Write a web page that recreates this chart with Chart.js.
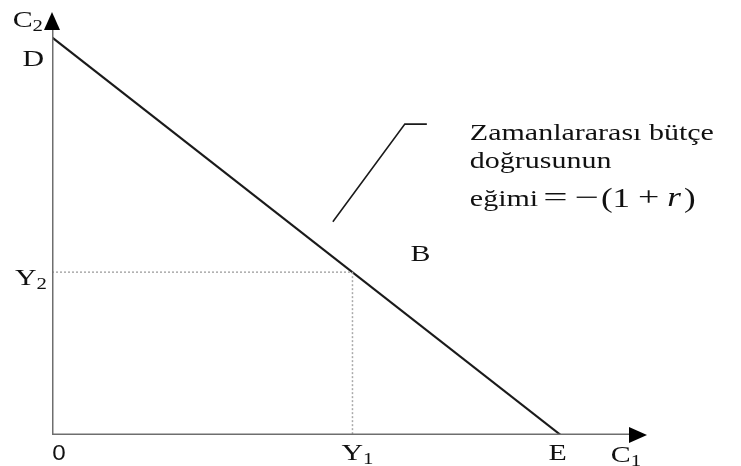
<!DOCTYPE html>
<html>
<head>
<meta charset="utf-8">
<script src="https://cdn.jsdelivr.net/npm/chart.js@4"></script>
<style>
  html, body { margin: 0; padding: 0; background: #fff; }
  canvas { display: block; }
</style>
</head>
<body>
<canvas id="butce" width="741" height="466"></canvas>
<script>
// budget line ends (C2 intercept D, C1 intercept E) and endowment point B
const budgetC1 = [0, 85.5];
const budgetC2 = [94, 0];
const endowC1 = 50.5;   // Y1
const endowC2 = 38.5;   // Y2
const axisMax = 100;
// leader line of the note
const leaderC1 = [47.2, 59.3, 63.0];
const leaderC2 = [50.4, 73.5, 73.5];
const noteLines = ['Zamanlararası bütçe', 'doğrusunun'];

const SERIF = '"Liberation Serif", "DejaVu Serif", serif';

function pts(xs, ys) { return xs.map((x, i) => ({ x: x, y: ys[i] })); }

// draw text stretched horizontally like the scanned figure
function stretchText(ctx, txt, x, y, size, align, font, sx, style) {
  sx = sx || 1.3;
  ctx.save();
  ctx.font = (style ? style + ' ' : '') + size + 'px ' + (font || SERIF);
  const w = ctx.measureText(txt).width * sx;
  let left = x;
  if (align === 'right') left = x - w;
  if (align === 'center') left = x - w / 2;
  ctx.translate(left, y);
  ctx.scale(sx, 1);
  ctx.textAlign = 'left';
  ctx.textBaseline = 'alphabetic';
  ctx.fillStyle = '#111';
  ctx.fillText(txt, 0, 0);
  ctx.restore();
  return w;
}

function label(ctx, main, sub, x, y, align) {
  ctx.save();
  ctx.font = '23px ' + SERIF;
  const wm = ctx.measureText(main).width * 1.3;
  ctx.font = '16px ' + SERIF;
  const ws = sub ? ctx.measureText(sub).width * 1.3 : 0;
  ctx.restore();
  const total = wm + ws;
  let left = x;
  if (align === 'right') left = x - total;
  if (align === 'center') left = x - total / 2;
  stretchText(ctx, main, left, y, 23, 'left');
  if (sub) stretchText(ctx, sub, left + wm, y + 4, 16, 'left');
}

const decor = {
  id: 'decor',
  afterDatasetsDraw(chart) {
    const ctx = chart.ctx;
    const xs = chart.scales.x, ys = chart.scales.y;
    const x0 = xs.getPixelForValue(0), y0 = ys.getPixelForValue(0);
    const xEnd = xs.getPixelForValue(axisMax), yEnd = ys.getPixelForValue(axisMax);

    // arrow heads
    ctx.save();
    ctx.fillStyle = '#000';
    ctx.beginPath();
    ctx.moveTo(xEnd, y0);
    ctx.lineTo(xEnd - 18, y0 - 8);
    ctx.lineTo(xEnd - 18, y0 + 8);
    ctx.closePath();
    ctx.fill();
    ctx.beginPath();
    ctx.moveTo(x0, yEnd);
    ctx.lineTo(x0 - 8, yEnd + 18);
    ctx.lineTo(x0 + 8, yEnd + 18);
    ctx.closePath();
    ctx.fill();
    ctx.restore();

    // axis and point labels
    label(ctx, 'C', '2', x0 - 9, yEnd + 15, 'right');
    label(ctx, 'D', '', x0 - 8, ys.getPixelForValue(budgetC2[0]) + 29, 'right');
    label(ctx, 'Y', '2', x0 - 5, ys.getPixelForValue(endowC2) + 13, 'right');
    stretchText(ctx, '0', x0 + 7, y0 + 25, 22, 'center', '"Liberation Sans", Arial, sans-serif', 1.1);
    label(ctx, 'Y', '1', xs.getPixelForValue(endowC1) + 5, y0 + 25, 'center');
    label(ctx, 'E', '', xs.getPixelForValue(budgetC1[1]) - 3, y0 + 25, 'center');
    label(ctx, 'C', '1', xEnd - 21, y0 + 27, 'center');
    label(ctx, 'B', '', xs.getPixelForValue(endowC1) + 68, ys.getPixelForValue(endowC2) - 11, 'center');

    // note text
    const nx = xs.getPixelForValue(leaderC1[2]) + 43;
    const ny = ys.getPixelForValue(leaderC2[2]) + 16;
    const fs = 24, sx = 1.25;
    stretchText(ctx, noteLines[0], nx, ny, fs, 'left', SERIF, sx);
    stretchText(ctx, noteLines[1], nx, ny + 28, fs, 'left', SERIF, sx);
    let cx = nx, by = ny + 66;
    cx += stretchText(ctx, 'eğimi', cx, by, fs, 'left', SERIF, sx);
    cx += 5 + stretchText(ctx, '=', cx + 5, by, 27, 'left', SERIF, 1.6);
    cx += 7 + stretchText(ctx, '−', cx + 7, by, 27, 'left', SERIF, 1.6);
    cx += 2 + stretchText(ctx, '(1', cx + 2, by + 1, 28, 'left', SERIF, 1.25);
    cx += 8 + stretchText(ctx, '+', cx + 8, by, 27, 'left', SERIF, 1.4);
    cx += 8 + stretchText(ctx, 'r', cx + 8, by, 27, 'left', SERIF, 1.3, 'italic');
    stretchText(ctx, ')', cx + 3, by + 1, 28, 'left', SERIF, 1.25);
  }
};

new Chart(document.getElementById('butce').getContext('2d'), {
  type: 'scatter',
  data: {
    datasets: [
      { data: pts([0, axisMax - 3], [0, 0]), showLine: true, borderColor: '#6e6e6e', borderWidth: 3, pointRadius: 0 },
      { data: pts([0, 0], [0, axisMax - 3]), showLine: true, borderColor: '#6e6e6e', borderWidth: 3, pointRadius: 0 },
      { data: pts([0, endowC1], [endowC2, endowC2]), showLine: true, borderColor: '#aaa', borderWidth: 1.5, borderDash: [2, 2], pointRadius: 0 },
      { data: pts([endowC1, endowC1], [endowC2, 0]), showLine: true, borderColor: '#aaa', borderWidth: 1.5, borderDash: [2, 2], pointRadius: 0 },
      { data: pts(budgetC1, budgetC2), showLine: true, borderColor: '#1a1a1a', borderWidth: 2.2, pointRadius: 0 },
      { data: pts(leaderC1, leaderC2), showLine: true, borderColor: '#1a1a1a', borderWidth: 1.6, pointRadius: 0 }
    ]
  },
  options: {
    responsive: false,
    animation: false,
    layout: { padding: { left: 52, right: 94, top: 12, bottom: 31 } },
    plugins: { legend: { display: false }, tooltip: { enabled: false } },
    scales: {
      x: { type: 'linear', min: 0, max: axisMax, display: false },
      y: { type: 'linear', min: 0, max: axisMax, display: false }
    }
  },
  plugins: [decor]
});
</script>
</body>
</html>
